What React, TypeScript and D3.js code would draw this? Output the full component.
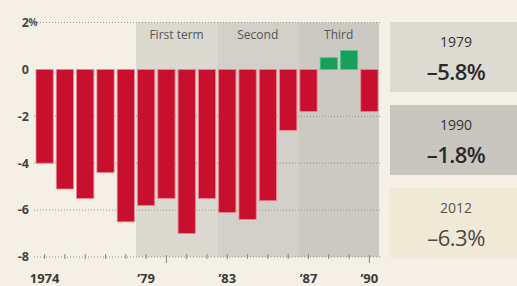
import React from "react";
import * as d3 from "d3";

// budget balance, % of GDP
const years = [1974, 1975, 1976, 1977, 1978, 1979, 1980, 1981, 1982, 1983, 1984, 1985, 1986, 1987, 1988, 1989, 1990];
const values = [-4.0, -5.1, -5.5, -4.4, -6.5, -5.8, -5.5, -7.0, -5.5, -6.1, -6.4, -5.6, -2.6, -1.8, 0.5, 0.8, -1.8];
const yTicks = [2, 0, -2, -4, -6, -8];
const gridTicks = [2, -2, -4, -6];
const xLabels: Record<number, string> = { 1974: "1974", 1979: "\u201979", 1983: "\u201983", 1987: "\u201987", 1990: "\u201990" };
const terms = [
  { name: "First term", from: 1979, to: 1982, fill: "#dcd9d0" },
  { name: "Second", from: 1983, to: 1986, fill: "#d2d0c8" },
  { name: "Third", from: 1987, to: 1990, fill: "#cbc9c2" },
];
const boxYears = ["1979", "1990", "2012"];
const boxValues = ["\u20135.8%", "\u20131.8%", "\u20136.3%"];
const boxFills = ["#dddad1", "#c8c6bf", "#efe9d5"];

const W = 517;
const H = 286;
const font = "'Open Sans', 'DejaVu Sans', sans-serif";

export default function App() {
  const x = d3.scaleBand<number>().domain(years).range([36, 378]).paddingInner(0.15).paddingOuter(0);
  const y = d3.scaleLinear().domain([2, -8]).range([22.5, 257]);
  const bw = x.bandwidth();
  const gap = x.step() - bw;

  return (
    <svg width={W} height={H} style={{ position: "absolute", left: 0, top: 0 }} fontFamily={font}>
      <rect width={W} height={H} fill="#f4f0e6" />

      {terms.map((t) => {
        const x0 = (x(t.from) as number) - gap / 2;
        const x1 = t.to === 1990 ? (x(t.to) as number) + bw + 1 : (x(t.to) as number) + bw + gap / 2;
        return (
          <g key={t.name}>
            <rect x={x0} y={y(2)} width={x1 - x0} height={y(-8) - y(2)} fill={t.fill} />
            <text x={(x0 + x1) / 2} y={39} textAnchor="middle" fontSize={12} fill="#555">
              {t.name}
            </text>
          </g>
        );
      })}

      {gridTicks.map((v) => (
        <line key={v} x1={34} x2={380} y1={y(v)} y2={y(v)} stroke="#9a968c" strokeWidth={1} strokeDasharray="1,2" />
      ))}

      {values.map((v, i) => (
        <rect
          key={years[i]}
          x={x(years[i])}
          y={y(Math.max(0, v))}
          width={bw}
          height={Math.abs(y(v) - y(0))}
          fill={v < 0 ? "#c8102e" : "#17a05a"}
          stroke={v < 0 ? "#ee8595" : "#5cc08c"}
          strokeWidth={0.8}
        />
      ))}

      {/* bottom axis */}
      <line x1={34} x2={380} y1={y(-8)} y2={y(-8)} stroke="#9a968c" strokeWidth={1} strokeDasharray="1,2" />
      {years.map((yr) => {
        const cx = (x(yr) as number) + bw / 2;
        const tall = yr % 10 === 0;
        return <line key={yr} x1={cx} x2={cx} y1={y(-8) - (tall ? 2 : 3)} y2={y(-8) + (tall ? 6 : 2)} stroke="#8a867c" strokeWidth={1} />;
      })}
      {years
        .filter((yr) => xLabels[yr])
        .map((yr) => (
          <text key={yr} x={(x(yr) as number) + bw / 2} y={283} textAnchor="middle" fontSize={13} fontWeight={700} fill="#3a3a3a">
            {xLabels[yr]}
          </text>
        ))}

      {/* y labels */}
      {yTicks.map((v) => (
        <g key={v}>
          <text x={29} y={y(v)} dy="0.35em" textAnchor="end" fontSize={12.5} fontWeight={700} fill="#444">
            {v < 0 ? "-" + Math.abs(v) : String(v)}
          </text>
          {v === 2 && (
            <text x={28.5} y={y(v)} dy="0.3em" fontSize={10} fontWeight={700} fill="#555">
              %
            </text>
          )}
        </g>
      ))}

      {/* side boxes */}
      {boxYears.map((yr, i) => {
        const top = 22 + i * 83;
        return (
          <g key={yr}>
            <rect x={390} y={top} width={W - 390} height={70} fill={boxFills[i]} />
            <text x={456} y={top + 25} textAnchor="middle" fontSize={14} fill={i === 2 ? "#555" : "#333"}>
              {yr}
            </text>
            <text
              x={456}
              y={top + 58}
              textAnchor="middle"
              fontSize={22}
              fontWeight={i === 2 ? 400 : 600}
              letterSpacing={-0.5}
              fill={i === 2 ? "#4a4a4a" : "#2a2a2a"}
            >
              {boxValues[i]}
            </text>
          </g>
        );
      })}
    </svg>
  );
}
